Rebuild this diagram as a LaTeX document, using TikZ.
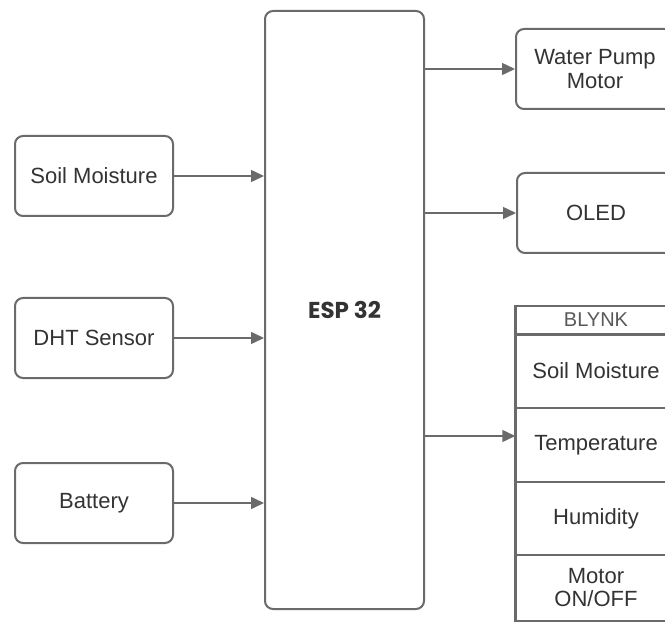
\documentclass[tikz,border=0pt]{standalone}
\usepackage{fontspec}
\setmainfont{Liberation Sans}
\newfontfamily\espfont{Poppins}
\usetikzlibrary{arrows.meta,positioning}

\definecolor{linegray}{HTML}{6A6A6A}
\definecolor{textgray}{HTML}{333333}

\tikzset{
	block/.style={draw=linegray, line width=2pt, rounded corners=8pt, fill=white,
		minimum width=158pt, minimum height=80pt, inner sep=0pt, align=center,
		text=textgray, font=\fontsize{22}{24}\selectfont},
	cell/.style={draw=linegray, line width=1.5pt, fill=white, minimum width=160pt,
		inner sep=0pt, align=center, text=textgray, font=\fontsize{22}{23}\selectfont},
	link/.style={draw=linegray, line width=1.5pt, -{Triangle[length=13pt,width=12pt]}}
}

\begin{document}
\begin{tikzpicture}[x=1pt, y=-1pt]
	\useasboundingbox (0,0) rectangle (665,623);
	\clip (0,0) rectangle (665,623);
	% inputs
	\node [block] (soil) at (94,176) {Soil Moisture};
	\node [block] (dht) at (94,338) {DHT Sensor};
	\node [block] (bat) at (94,503) {Battery};
	% controller
	\node [block, minimum width=159pt, minimum height=598pt,
		font=\espfont\bfseries\fontsize{23}{25}\selectfont] (esp) at (344.5,310) {ESP 32};
	% outputs
	\node [block] (pump) at (595,69) {Water Pump\\Motor};
	\node [block] (oled) at (596,213) {OLED};
	% blynk table
	\node [cell, minimum height=28pt, font=\fontsize{20}{22}\selectfont, text=black!65] (blynk) at (596,320) {BLYNK};
	\node [cell, minimum height=74pt] (bsoil) at (596,371) {Soil Moisture};
	\node [cell, minimum height=74pt] (btemp) at (596,445) {Temperature};
	\node [cell, minimum height=73pt] (bhum) at (596,518.5) {Humidity};
	\node [cell, minimum height=66pt] (bmot) at (596,588) {Motor\\ON/OFF};
	\draw [linegray, line width=2.5pt] (blynk.south west) -- (blynk.south east);
	\draw [linegray, line width=2pt] (blynk.north west) -- (bmot.south west);
	\coordinate (tin) at ([yshift=9pt]btemp.west);
	% connectors
	\draw [link] (soil.east) -- (soil.east -| esp.west);
	\draw [link] (dht.east) -- (dht.east -| esp.west);
	\draw [link] (bat.east) -- (bat.east -| esp.west);
	\draw [link] (esp.east |- pump.west) -- (pump.west);
	\draw [link] (esp.east |- oled.west) -- (oled.west);
	\draw [link] (esp.east |- tin) -- (tin);
\end{tikzpicture}
\end{document}
